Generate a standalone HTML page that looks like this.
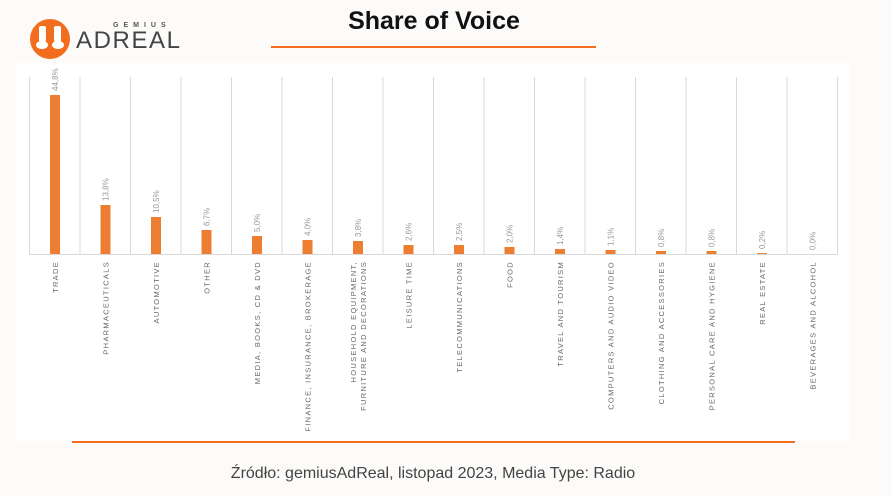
<!DOCTYPE html>
<html><head><meta charset="utf-8"><style>
html,body{margin:0;padding:0;background:#fcfbf9;}
body{width:892px;height:496px;overflow:hidden;position:relative;font-family:"Liberation Sans",sans-serif;}
</style></head><body>
<svg width="892" height="496" viewBox="0 0 892 496" xmlns="http://www.w3.org/2000/svg" style="position:absolute;left:0;top:0">
<rect x="0" y="0" width="892" height="496" fill="#fcfbf9"/>
<rect x="16" y="63" width="834" height="378" fill="#ffffff"/>
<!-- logo -->
<circle cx="50" cy="39" r="20" fill="#f26d1d"/>
<g fill="#fff">
<rect x="39" y="26" width="7" height="16" rx="2"/>
<rect x="54" y="26" width="7" height="16" rx="2"/>
<ellipse cx="42" cy="45" rx="6" ry="4"/>
<ellipse cx="58" cy="45" rx="6" ry="4"/>
</g>
<text x="113" y="27" font-size="7" fill="#555" letter-spacing="5" font-weight="bold">GEMIUS</text>
<text x="76" y="48" font-size="24" fill="#444" letter-spacing="1" textLength="105" lengthAdjust="spacing">ADREAL</text>
<!-- title -->
<text x="434" y="29" font-size="25" font-weight="bold" fill="#111" text-anchor="middle">Share of Voice</text>
<rect x="271" y="46" width="325" height="2" fill="#f26d1d"/>
<rect x="72" y="441" width="723" height="2" fill="#f26d1d"/>
<text x="433" y="478" font-size="16" fill="#444" text-anchor="middle">Źródło: gemiusAdReal, listopad 2023, Media Type: Radio</text>
<!-- grid -->
<g stroke="#d9d9d9" stroke-width="1">
<line x1="29.5" y1="77" x2="29.5" y2="254"/><line x1="80" y1="77" x2="80" y2="254"/><line x1="130.5" y1="77" x2="130.5" y2="254"/><line x1="181" y1="77" x2="181" y2="254"/><line x1="231.5" y1="77" x2="231.5" y2="254"/><line x1="282" y1="77" x2="282" y2="254"/><line x1="332.5" y1="77" x2="332.5" y2="254"/><line x1="383" y1="77" x2="383" y2="254"/><line x1="433.5" y1="77" x2="433.5" y2="254"/><line x1="484" y1="77" x2="484" y2="254"/><line x1="534.5" y1="77" x2="534.5" y2="254"/><line x1="585" y1="77" x2="585" y2="254"/><line x1="635.5" y1="77" x2="635.5" y2="254"/><line x1="686" y1="77" x2="686" y2="254"/><line x1="736.5" y1="77" x2="736.5" y2="254"/><line x1="787" y1="77" x2="787" y2="254"/><line x1="837.5" y1="77" x2="837.5" y2="254"/>
<line x1="29" y1="254.5" x2="838" y2="254.5"/>
</g>
<g fill="#ed7d31">
<rect x="50" y="95" width="10" height="159"/>
<rect x="100.5" y="205" width="10" height="49"/>
<rect x="151" y="217" width="10" height="37"/>
<rect x="201.5" y="230" width="10" height="24"/>
<rect x="252" y="236" width="10" height="18"/>
<rect x="302.5" y="240" width="10" height="14"/>
<rect x="353" y="241" width="10" height="13"/>
<rect x="403.5" y="245" width="10" height="9"/>
<rect x="454" y="245" width="10" height="9"/>
<rect x="504.5" y="247" width="10" height="7"/>
<rect x="555" y="249" width="10" height="5"/>
<rect x="605.5" y="250" width="10" height="4"/>
<rect x="656" y="251" width="10" height="3"/>
<rect x="706.5" y="251" width="10" height="3"/>
<rect x="757" y="253" width="10" height="1"/>
</g>
<g font-size="8" fill="#999">
<text transform="translate(58,91) rotate(-90)">44,8%</text>
<text transform="translate(108.5,201) rotate(-90)">13,8%</text>
<text transform="translate(159,213) rotate(-90)">10,5%</text>
<text transform="translate(209.5,226) rotate(-90)">6,7%</text>
<text transform="translate(260,232) rotate(-90)">5,0%</text>
<text transform="translate(310.5,236) rotate(-90)">4,0%</text>
<text transform="translate(361,237) rotate(-90)">3,8%</text>
<text transform="translate(411.5,241) rotate(-90)">2,6%</text>
<text transform="translate(462,241) rotate(-90)">2,5%</text>
<text transform="translate(512.5,243) rotate(-90)">2,0%</text>
<text transform="translate(563,245) rotate(-90)">1,4%</text>
<text transform="translate(613.5,246) rotate(-90)">1,1%</text>
<text transform="translate(664,247) rotate(-90)">0,8%</text>
<text transform="translate(714.5,247) rotate(-90)">0,8%</text>
<text transform="translate(765,249) rotate(-90)">0,2%</text>
<text transform="translate(815.5,250) rotate(-90)">0,0%</text>
</g>
<g font-size="7.5" fill="#666" letter-spacing="1.3" text-anchor="end">
<text transform="translate(58,261) rotate(-90)">TRADE</text>
<text transform="translate(108.5,261) rotate(-90)">PHARMACEUTICALS</text>
<text transform="translate(159,261) rotate(-90)">AUTOMOTIVE</text>
<text transform="translate(209.5,261) rotate(-90)">OTHER</text>
<text transform="translate(260,261) rotate(-90)">MEDIA, BOOKS, CD &amp; DVD</text>
<text transform="translate(310.5,261) rotate(-90)">FINANCE, INSURANCE, BROKERAGE</text>
<text transform="translate(356,261) rotate(-90)">HOUSEHOLD EQUIPMENT,</text>
<text transform="translate(366,261) rotate(-90)">FURNITURE AND DECORATIONS</text>
<text transform="translate(411.5,261) rotate(-90)">LEISURE TIME</text>
<text transform="translate(462,261) rotate(-90)">TELECOMMUNICATIONS</text>
<text transform="translate(512.5,261) rotate(-90)">FOOD</text>
<text transform="translate(563,261) rotate(-90)">TRAVEL AND TOURISM</text>
<text transform="translate(613.5,261) rotate(-90)">COMPUTERS AND AUDIO VIDEO</text>
<text transform="translate(664,261) rotate(-90)">CLOTHING AND ACCESSORIES</text>
<text transform="translate(714.5,261) rotate(-90)">PERSONAL CARE AND HYGIENE</text>
<text transform="translate(765,261) rotate(-90)">REAL ESTATE</text>
<text transform="translate(815.5,261) rotate(-90)">BEVERAGES AND ALCOHOL</text>
</g>
</svg>
</body></html>
